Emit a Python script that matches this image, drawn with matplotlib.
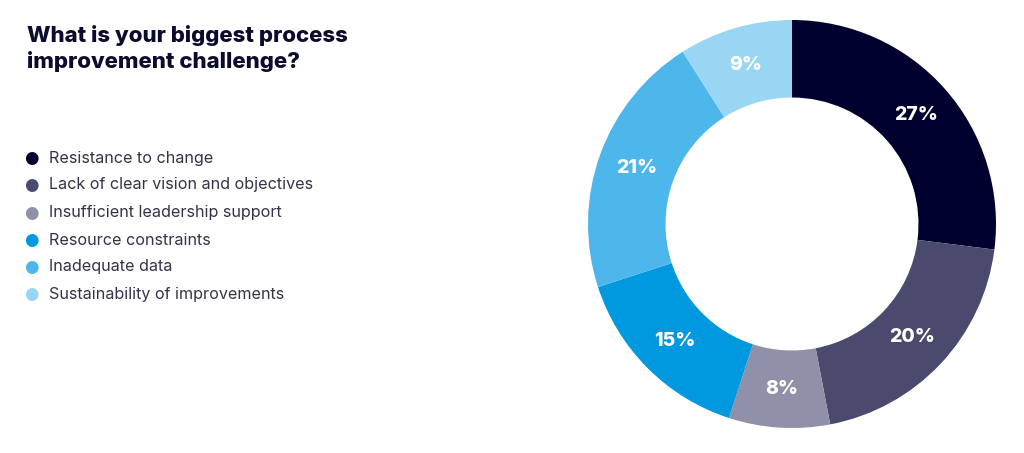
import matplotlib.pyplot as plt
import numpy as np

categories = ["Resistance to change", "Lack of clear vision and objectives",
              "Insufficient leadership support", "Resource constraints",
              "Inadequate data", "Sustainability of improvements"]
shares = [27, 20, 8, 15, 21, 9]
colors = ["#00002e", "#4a4a6e", "#9090a8", "#0099e0", "#4db6ea", "#98d6f3"]
title = "What is your biggest process\nimprovement challenge?"

plt.rcParams['font.family'] = ['Inter', 'DejaVu Sans']

fig = plt.figure(figsize=(10.24, 4.53), dpi=100)
fig.patch.set_facecolor("white")

# title on the left
fig.text(27 / 1024, 1 - 25 / 453, title, fontsize=16, fontweight="heavy",
         color="#0b0b2e", va="top", ha="left", linespacing=1.3)

# donut
ax = fig.add_axes([588 / 1024, (229 - 204) / 453, 408 / 1024, 408 / 453])
wedges, texts = ax.pie(shares, colors=colors, startangle=90, counterclock=False,
                       radius=1.0, wedgeprops=dict(width=0.38, linewidth=0))
ax.set_xlim(-1, 1)
ax.set_ylim(-1, 1)
ax.set_aspect("equal")

for w, s in zip(wedges, shares):
    ang = np.deg2rad((w.theta1 + w.theta2) / 2)
    r = 0.81
    ax.text(r * np.cos(ang), r * np.sin(ang), f"{s}%", ha="center", va="center",
            color="white", fontsize=14, fontweight="heavy")

# legend rows
row_y = [158, 185, 213, 240, 267, 294]
for lab, c, y in zip(categories, colors, row_y):
    fig.text(31 / 1024, 1 - y / 453, "\u25cf", color=c, fontsize=12,
             ha="center", va="center", family="DejaVu Sans")
    fig.text(49 / 1024, 1 - y / 453, lab, color="#33334a", fontsize=11.6,
             ha="left", va="center")

fig.savefig("out.png", dpi=100, facecolor="white")
